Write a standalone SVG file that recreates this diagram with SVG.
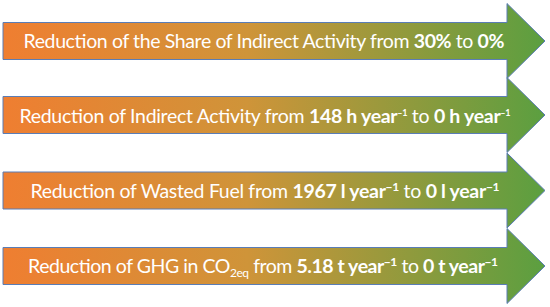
<svg xmlns="http://www.w3.org/2000/svg" width="550" height="307" viewBox="0 0 550 307">
<defs>
<linearGradient id="g" x1="0" y1="0" x2="1" y2="0">
<stop offset="0" stop-color="#EF7E31"/>
<stop offset="0.45" stop-color="#CF9439"/>
<stop offset="1" stop-color="#5B9F40"/>
</linearGradient>
</defs>
<style>
.arrow{fill:url(#g);stroke:#5A7DB6;stroke-width:1}
.t{font-family:Lato,"Open Sans","Liberation Sans",sans-serif;font-size:19.5px;fill:#FFFFFF;text-anchor:middle}
.b{font-weight:bold}
.sup{font-size:12px}
.supS{font-size:9px}
.sub{font-size:12px}
</style>
<g id="arrow1">
<path class="arrow" d="M3,22.5 H507 V3.5 L545,41 L507,78.5 V59.5 H3 Z"/>
<text class="t" x="264" y="48" textLength="481" lengthAdjust="spacing">Reduction of the Share of Indirect Activity from <tspan class="b">30%</tspan> to <tspan class="b">0%</tspan></text>
</g>
<g id="arrow2">
<path class="arrow" d="M3,96.5 H507 V77.5 L545,115 L507,152.5 V133.5 H3 Z"/>
<text class="t" x="265" y="122.5" textLength="491" lengthAdjust="spacing">Reduction of Indirect Activity from <tspan class="b">148 h year</tspan><tspan class="b supS" dy="-7">–1</tspan><tspan dy="7"> to </tspan><tspan class="b">0 h year</tspan><tspan class="b supS" dy="-7">–1</tspan></text>
</g>
<g id="arrow3">
<path class="arrow" d="M3,172 H507 V153 L545,190.5 L507,228 V209 H3 Z"/>
<text class="t" x="265" y="197.5" textLength="469" lengthAdjust="spacing">Reduction of Wasted Fuel from <tspan class="b">1967 l year</tspan><tspan class="b sup" dy="-7">−1</tspan><tspan dy="7"> to </tspan><tspan class="b">0 l year</tspan><tspan class="b sup" dy="-7">−1</tspan></text>
</g>
<g id="arrow4">
<path class="arrow" d="M3,247.5 H507 V228.5 L545,266 L507,303.5 V284.5 H3 Z"/>
<text class="t" x="263" y="272.5" textLength="470" lengthAdjust="spacing">Reduction of GHG in CO<tspan class="sub" dy="4">2eq</tspan><tspan dy="-4"> from </tspan><tspan class="b">5.18 t year</tspan><tspan class="b sup" dy="-7">−1</tspan><tspan dy="7"> to </tspan><tspan class="b">0 t year</tspan><tspan class="b sup" dy="-7">−1</tspan></text>
</g>
<g id="connectors"/>
</svg>
